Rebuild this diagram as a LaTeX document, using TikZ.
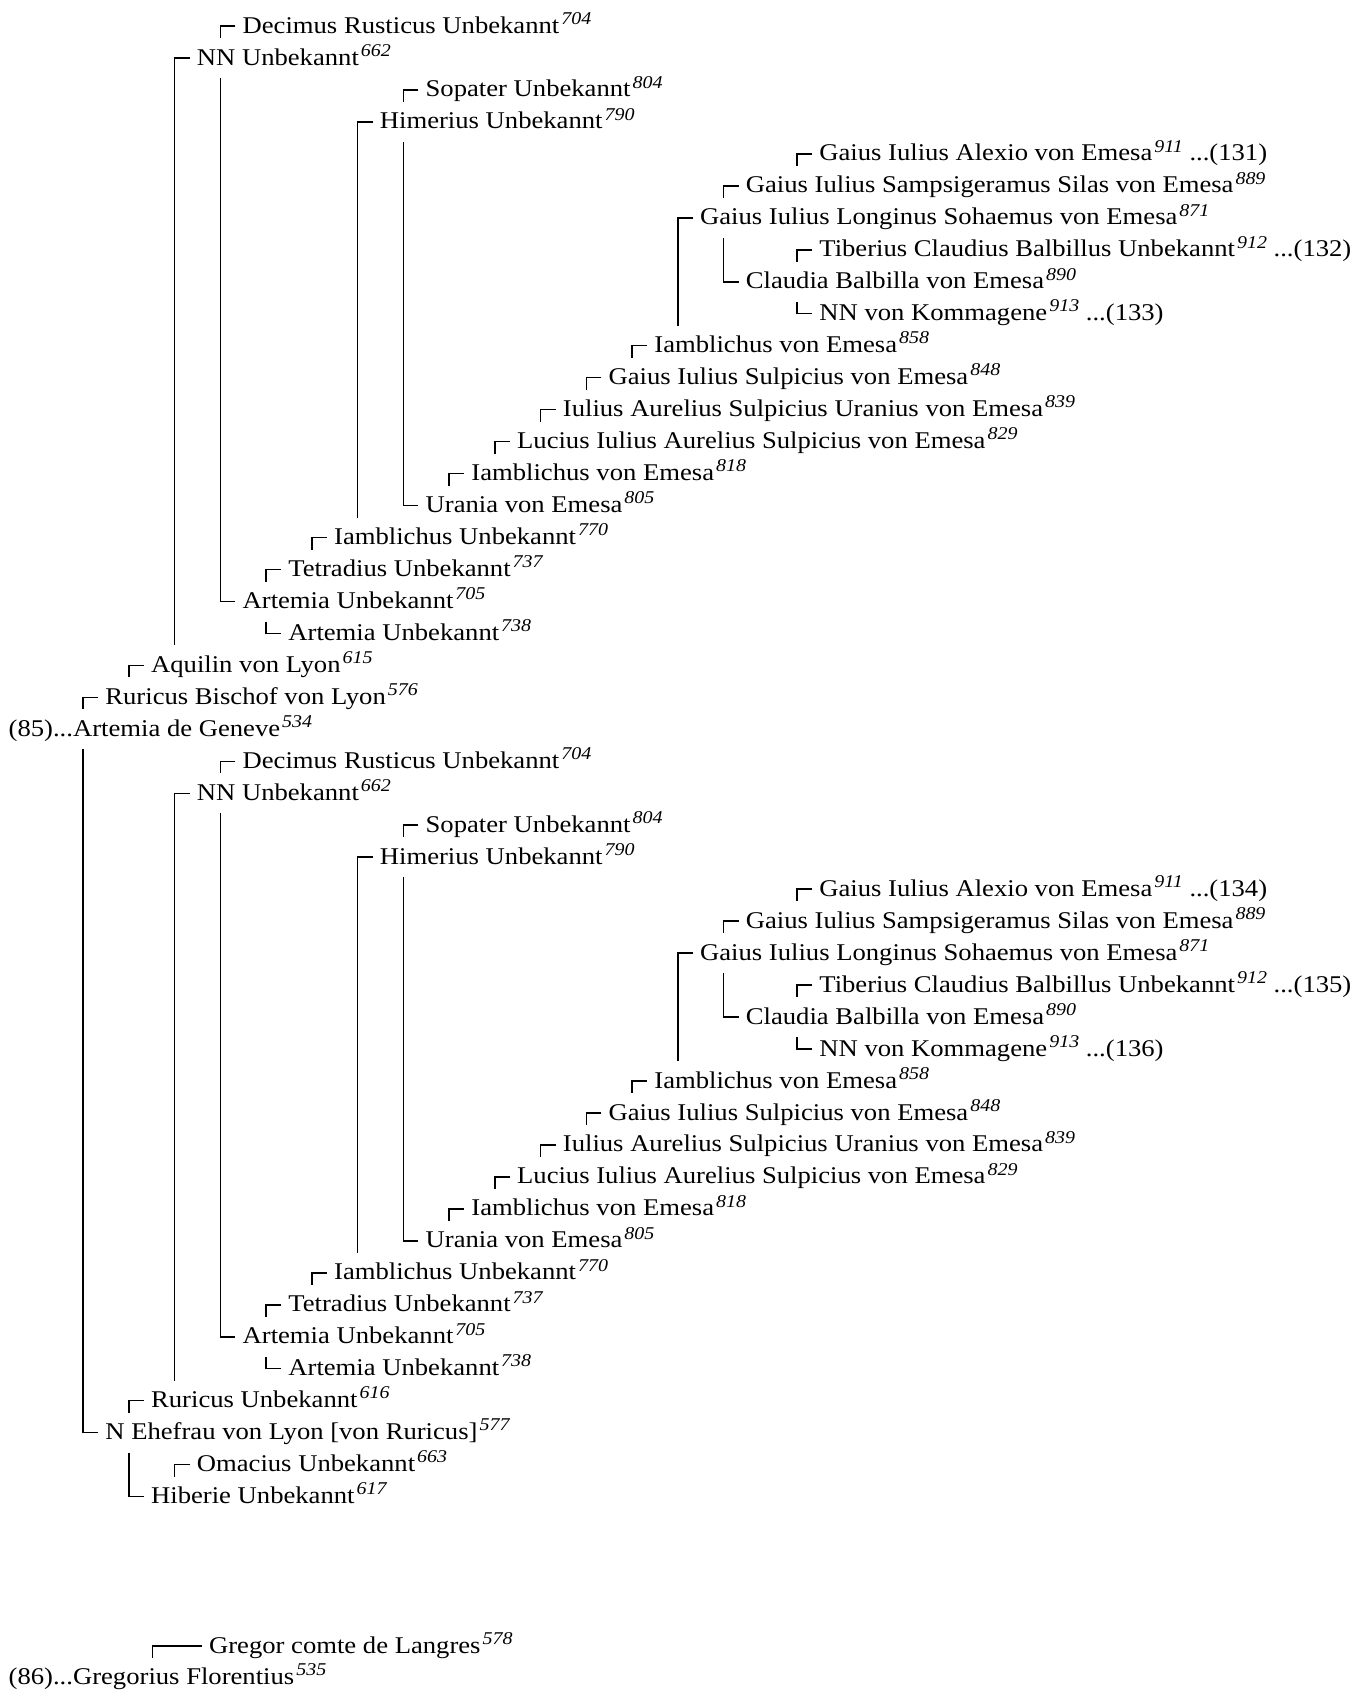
\documentclass[tikz,border=0pt]{standalone}
\usepackage{fontspec}
\setmainfont{Liberation Serif}[FakeStretch=1.11]
\usepackage{tikz}
\usetikzlibrary{calc}
\newcommand{\yr}[1]{\kern1pt\raisebox{4.4pt}{\fontsize{9}{9}\selectfont\itshape #1}}

\begin{document}
\begin{tikzpicture}[
    x=0.5pt, y=-0.5pt,
    person/.style={anchor=west, inner xsep=3.5pt, inner ysep=0pt,
                   text height=9pt, text depth=2pt,
                   font=\fontsize{12}{14}\selectfont},
    tree/.style={line width=0.75pt},
]
\useasboundingbox (0,0) rectangle (1363,1692);

\foreach \b/\s/\ra/\rb/\rc in {u/0/131/132/133, d/735.3/134/135/136}{
\node[person] (decimus-\b) at (235.25,{26+\s}) {Decimus Rusticus Unbekannt\yr{704}};
\node[person] (nn-\b) at (189.5,{58+\s}) {NN Unbekannt\yr{662}};
\node[person] (sopater-\b) at (418.25,{89.9+\s}) {Sopater Unbekannt\yr{804}};
\node[person] (himerius-\b) at (372.5,{121.9+\s}) {Himerius Unbekannt\yr{790}};
\node[person] (alexio-\b) at (812,{153.9+\s}) {Gaius Iulius Alexio von Emesa\yr{911} ...(\ra)};
\node[person] (silas-\b) at (738.5,{185.9+\s}) {Gaius Iulius Sampsigeramus Silas von Emesa\yr{889}};
\node[person] (sohaemus-\b) at (692.75,{217.8+\s}) {Gaius Iulius Longinus Sohaemus von Emesa\yr{871}};
\node[person] (balbillus-\b) at (812,{249.8+\s}) {Tiberius Claudius Balbillus Unbekannt\yr{912} ...(\rb)};
\node[person] (balbilla-\b) at (738.5,{281.8+\s}) {Claudia Balbilla von Emesa\yr{890}};
\node[person] (kommagene-\b) at (812,{313.7+\s}) {NN von Kommagene\yr{913} ...(\rc)};
\node[person] (iamblC-\b) at (647,{345.7+\s}) {Iamblichus von Emesa\yr{858}};
\node[person] (sulpicius-\b) at (601.25,{377.7+\s}) {Gaius Iulius Sulpicius von Emesa\yr{848}};
\node[person] (uranius-\b) at (555.5,{409.6+\s}) {Iulius Aurelius Sulpicius Uranius von Emesa\yr{839}};
\node[person] (lucius-\b) at (509.75,{441.6+\s}) {Lucius Iulius Aurelius Sulpicius von Emesa\yr{829}};
\node[person] (iamblB-\b) at (464,{473.6+\s}) {Iamblichus von Emesa\yr{818}};
\node[person] (urania-\b) at (418.25,{505.6+\s}) {Urania von Emesa\yr{805}};
\node[person] (iamblA-\b) at (326.75,{537.5+\s}) {Iamblichus Unbekannt\yr{770}};
\node[person] (tetradius-\b) at (281,{569.5+\s}) {Tetradius Unbekannt\yr{737}};
\node[person] (artemia-\b) at (235.25,{601.5+\s}) {Artemia Unbekannt\yr{705}};
\node[person] (artemiaB-\b) at (281,{633.4+\s}) {Artemia Unbekannt\yr{738}};

\draw[tree] (decimus-\b.west) -| ($(nn-\b.west -| decimus-\b.west)+(-7.5pt,10pt)$);
\draw[tree] ($(nn-\b.west -| artemia-\b.west)+(-7.5pt,-10pt)$) |- (artemia-\b.west);
\draw[tree] (tetradius-\b.west) -| ($(artemia-\b.west -| tetradius-\b.west)+(-7.5pt,10pt)$);
\draw[tree] ($(artemia-\b.west -| artemiaB-\b.west)+(-7.5pt,-10pt)$) |- (artemiaB-\b.west);
\draw[tree] (iamblA-\b.west) -| ($(tetradius-\b.west -| iamblA-\b.west)+(-7.5pt,10pt)$);
\draw[tree] (himerius-\b.west) -| ($(iamblA-\b.west -| himerius-\b.west)+(-7.5pt,10pt)$);
\draw[tree] (sopater-\b.west) -| ($(himerius-\b.west -| sopater-\b.west)+(-7.5pt,10pt)$);
\draw[tree] ($(himerius-\b.west -| urania-\b.west)+(-7.5pt,-10pt)$) |- (urania-\b.west);
\draw[tree] (iamblB-\b.west) -| ($(urania-\b.west -| iamblB-\b.west)+(-7.5pt,10pt)$);
\draw[tree] (lucius-\b.west) -| ($(iamblB-\b.west -| lucius-\b.west)+(-7.5pt,10pt)$);
\draw[tree] (uranius-\b.west) -| ($(lucius-\b.west -| uranius-\b.west)+(-7.5pt,10pt)$);
\draw[tree] (sulpicius-\b.west) -| ($(uranius-\b.west -| sulpicius-\b.west)+(-7.5pt,10pt)$);
\draw[tree] (iamblC-\b.west) -| ($(sulpicius-\b.west -| iamblC-\b.west)+(-7.5pt,10pt)$);
\draw[tree] (sohaemus-\b.west) -| ($(iamblC-\b.west -| sohaemus-\b.west)+(-7.5pt,10pt)$);
\draw[tree] (silas-\b.west) -| ($(sohaemus-\b.west -| silas-\b.west)+(-7.5pt,10pt)$);
\draw[tree] ($(sohaemus-\b.west -| balbilla-\b.west)+(-7.5pt,-10pt)$) |- (balbilla-\b.west);
\draw[tree] (alexio-\b.west) -| ($(silas-\b.west -| alexio-\b.west)+(-7.5pt,10pt)$);
\draw[tree] (balbillus-\b.west) -| ($(balbilla-\b.west -| balbillus-\b.west)+(-7.5pt,10pt)$);
\draw[tree] ($(balbilla-\b.west -| kommagene-\b.west)+(-7.5pt,-10pt)$) |- (kommagene-\b.west);
}

\node[person] (aquilin) at (143.75,665.4) {Aquilin von Lyon\yr{615}};
\node[person] (ruricus) at (98,697.4) {Ruricus Bischof von Lyon\yr{576}};
\node[person] (geneve) at (1.3,729.3) {(85)...Artemia de Geneve\yr{534}};
\node[person] (ruricusB) at (143.75,1400.7) {Ruricus Unbekannt\yr{616}};
\node[person] (ehefrau) at (98,1432.7) {N Ehefrau von Lyon [von Ruricus]\yr{577}};
\node[person] (omacius) at (189.5,1464.7) {Omacius Unbekannt\yr{663}};
\node[person] (hiberie) at (143.75,1496.6) {Hiberie Unbekannt\yr{617}};
\node[person] (gregor) at (201.7,1646) {Gregor comte de Langres\yr{578}};
\node[person] (gregorius) at (1.3,1677) {(86)...Gregorius Florentius\yr{535}};

\draw[tree] (ruricus.west) -| ($(geneve.west -| ruricus.west)+(-7.5pt,10pt)$);
\draw[tree] ($(geneve.west -| ehefrau.west)+(-7.5pt,-10pt)$) |- (ehefrau.west);
\draw[tree] (aquilin.west) -| ($(ruricus.west -| aquilin.west)+(-7.5pt,10pt)$);
\draw[tree] (nn-u.west) -| ($(aquilin.west -| nn-u.west)+(-7.5pt,10pt)$);
\draw[tree] (ruricusB.west) -| ($(ehefrau.west -| ruricusB.west)+(-7.5pt,10pt)$);
\draw[tree] (nn-d.west) -| ($(ruricusB.west -| nn-d.west)+(-7.5pt,10pt)$);
\draw[tree] ($(ehefrau.west -| hiberie.west)+(-7.5pt,-10pt)$) |- (hiberie.west);
\draw[tree] (omacius.west) -| ($(hiberie.west -| omacius.west)+(-7.5pt,10pt)$);
\draw[tree] (gregor.west) -| ($(gregorius.west -| gregor.west)+(-24.5pt,9.5pt)$);
\end{tikzpicture}
\end{document}
